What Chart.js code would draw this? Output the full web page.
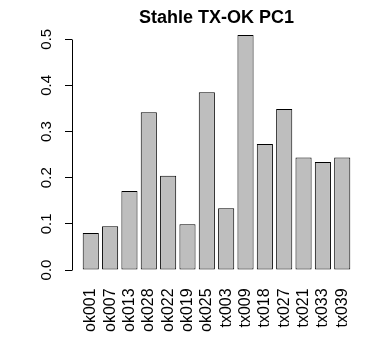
<!DOCTYPE html>
<html>
<head>
<meta charset="utf-8">
<script src="https://cdn.jsdelivr.net/npm/chart.js@4.4.1/dist/chart.umd.min.js"></script>
<style>
  html, body { margin: 0; padding: 0; background: #ffffff; }
  #wrap { width: 378px; height: 344px; }
</style>
</head>
<body>
<div id="wrap"><canvas id="pcChart" width="378" height="344"></canvas></div>
<script>
const chartTitle = "Stahle TX-OK PC1";
const siteNames = ["ok001", "ok007", "ok013", "ok028", "ok022", "ok019", "ok025",
  "tx003", "tx009", "tx018", "tx027", "tx021", "tx033", "tx039"];
const pcValues = [0.080, 0.095, 0.171, 0.342, 0.204, 0.099, 0.385,
  0.134, 0.509, 0.273, 0.349, 0.244, 0.234, 0.244];
const yTickValues = [0.0, 0.1, 0.2, 0.3, 0.4, 0.5];

// R barplot geometry: width 1, space 0.2, axis range padded by 4%
const barSpace = 0.2;
const barCenters = siteNames.map((_, i) => barSpace + 0.5 + i * (1 + barSpace));
const xLeft = barSpace;
const xRight = siteNames.length * (1 + barSpace);
const xPad = (xRight - xLeft) * 0.04;
const yTop = Math.max(...pcValues);
const yPad = yTop * 0.04;

const fontFamily = "'Liberation Sans', Arial, sans-serif";

// y axis line from first to last tick only, like R's axis()
const rAxisLine = {
  id: "rAxisLine",
  afterDraw(chart) {
    const yScale = chart.scales.y;
    const ctx = chart.ctx;
    const x = Math.round(chart.chartArea.left - 0.5) + 0.5;
    const y0 = Math.round(yScale.getPixelForValue(yTickValues[0]) - 0.5) + 0.5;
    const y1 = Math.round(yScale.getPixelForValue(yTickValues[yTickValues.length - 1]) - 0.5) + 0.5;
    ctx.save();
    ctx.strokeStyle = "#000000";
    ctx.lineWidth = 1;
    ctx.beginPath();
    ctx.moveTo(x, y0);
    ctx.lineTo(x, y1);
    ctx.stroke();
    ctx.restore();
  }
};

new Chart(document.getElementById("pcChart"), {
  type: "bar",
  data: {
    datasets: [{
      data: pcValues.map((v, i) => ({ x: barCenters[i], y: v })),
      backgroundColor: "#bebebe",
      borderColor: "#000000",
      borderWidth: 1,
      borderSkipped: false,
      categoryPercentage: 1,
      barPercentage: 1 / (1 + barSpace)
    }]
  },
  options: {
    responsive: false,
    animation: false,
    layout: { padding: { left: 0, right: 17, top: 0, bottom: 0 } },
    plugins: {
      legend: { display: false },
      tooltip: { enabled: false },
      title: {
        display: true,
        text: chartTitle,
        color: "#000000",
        fullSize: false,
        font: { family: fontFamily, size: 18, weight: "bold", lineHeight: 0.9 },
        padding: { top: 9.5, bottom: 0 }
      }
    },
    scales: {
      x: {
        type: "linear",
        offset: false,
        min: xLeft - xPad,
        max: xRight + xPad,
        grid: { display: false, drawTicks: false, offset: false },
        border: { display: false },
        afterBuildTicks(scale) {
          scale.ticks = barCenters.map((v) => ({ value: v }));
        },
        afterFit(scale) {
          scale.height = 64.6;
        },
        ticks: {
          autoSkip: false,
          minRotation: 90,
          maxRotation: 90,
          padding: 9,
          color: "#000000",
          font: { family: fontFamily, size: 16 },
          callback: (value, index) => siteNames[index]
        }
      },
      y: {
        min: -yPad,
        max: yTop + yPad,
        grid: {
          drawOnChartArea: false,
          drawTicks: true,
          tickLength: 7,
          color: "#000000",
          lineWidth: 1
        },
        border: { display: false },
        afterBuildTicks(scale) {
          scale.ticks = yTickValues.map((v) => ({ value: v }));
        },
        afterFit(scale) {
          scale.width = 72;
        },
        ticks: {
          minRotation: 90,
          maxRotation: 90,
          crossAlign: "center",
          padding: 7.5,
          color: "#000000",
          font: { family: fontFamily, size: 15 },
          callback: (value) => Number(value).toFixed(1)
        }
      }
    }
  },
  plugins: [rAxisLine]
});
</script>
</body>
</html>
